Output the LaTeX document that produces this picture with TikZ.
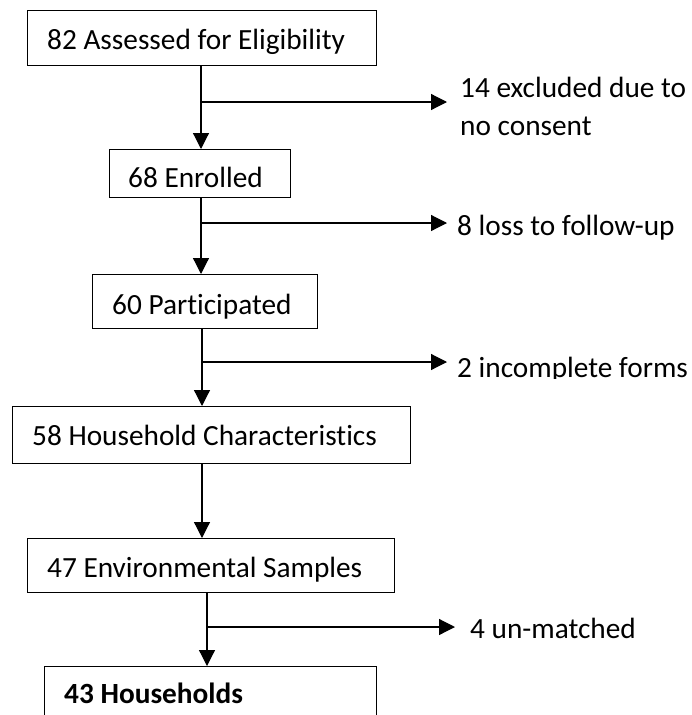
\documentclass[tikz,border=0pt]{standalone}
\usepackage{fontspec}
\setmainfont{Carlito}[Ligatures=NoCommon]
\usetikzlibrary{arrows.meta}
\tikzset{
  box/.style={draw=black, line width=1.2pt, anchor=north west, inner sep=0pt, fill=white},
  txt/.style={anchor=base west, inner sep=0pt, font=\fontsize{29.3}{38}\selectfont},
  conn/.style={line width=1.2pt, draw=black},
  arr/.style={conn, -{Triangle[length=16pt,width=16pt]}},
}
\begin{document}
\begin{tikzpicture}[x=1pt,y=-1pt]
\clip (0,0) rectangle (692,715);
\fill[white] (0,0) rectangle (692,715);
% boxes
\node[box, minimum width=349pt, minimum height=55pt] (b1) at (27,10) {};
\node[box, minimum width=181pt, minimum height=48pt] (b2) at (109,149) {};
\node[box, minimum width=225pt, minimum height=54pt] (b3) at (92,274) {};
\node[box, minimum width=398pt, minimum height=57pt] (b4) at (12,406) {};
\node[box, minimum width=367pt, minimum height=54pt] (b5) at (27,538) {};
\node[box, minimum width=332pt, minimum height=56pt] (b6) at (44,666) {};
% box texts
\node[txt] (t1) at (47,49) {82 Assessed for Eligibility};
\node[txt] (t2) at (128,187) {68 Enrolled};
\node[txt] (t3) at (112,314) {60 Participated};
\node[txt] (t4) at (32,445) {58 Household Characteristics};
\node[txt] (t5) at (47,577) {47 Environmental Samples};
\node[txt, font=\fontsize{29.3}{38}\selectfont\bfseries] (t6) at (64,703) {43 Households};
% side texts
\node[txt] (e1) at (460,97) {14 excluded due to};
\node[txt] (e1b) at (460,135) {no consent};
\node[txt] (e2) at (457,235) {8 loss to follow-up};
\begin{scope}
\clip (440,340) rectangle (692,378);
\node[txt] (e3) at (457,377) {2 incomplete forms};
\end{scope}
\node[txt] (e4) at (470,638) {4 un-matched};
% junctions and tips
\coordinate (j1) at (201,102);  \coordinate (a1) at (447,102);
\coordinate (j2) at (201,223);  \coordinate (a2) at (447,223);
\coordinate (j3) at (202,362);  \coordinate (a3) at (447,362);
\coordinate (j5) at (207,627);  \coordinate (a5) at (455,627);
% vertical connectors
\draw[arr] (201,0 |- b1.south) -- (201,0 |- b2.north);
\draw[arr] (201,0 |- b2.south) -- (201,0 |- b3.north);
\draw[arr] (202,0 |- b3.south) -- (202,0 |- b4.north);
\draw[arr] (202,0 |- b4.south) -- (202,0 |- b5.north);
\draw[arr] (207,0 |- b5.south) -- (207,0 |- b6.north);
% branches
\draw[arr] (j1) -- (a1);
\draw[arr] (j2) -- (a2);
\draw[arr] (j3) -- (a3);
\draw[arr] (j5) -- (a5);
\end{tikzpicture}
\end{document}
